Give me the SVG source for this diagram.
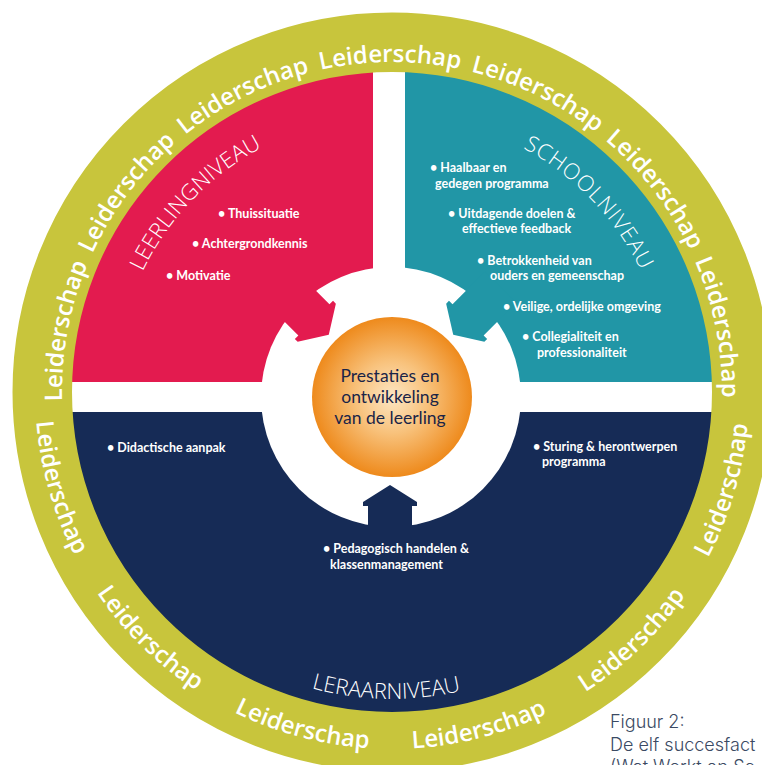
<svg xmlns="http://www.w3.org/2000/svg" width="762" height="765" viewBox="0 0 762 765">
<defs>
<style>
.ring{font-family:"Open Sans","Liberation Sans",sans-serif;font-size:24px;font-weight:600;fill:#ffffff;}
.lvl{font-family:"Open Sans","Liberation Sans",sans-serif;font-size:22px;font-weight:300;fill:#ffffff;}
.b{font-family:Lato,"Liberation Sans",sans-serif;font-size:12.5px;font-weight:700;fill:#ffffff;}
.ctr{font-family:Lato,"Liberation Sans",sans-serif;font-size:17.5px;fill:#1a2447;text-anchor:middle;}
.cap{font-family:Inter,"Liberation Sans",sans-serif;font-size:18px;font-weight:300;fill:#3b4a63;}
</style>
<clipPath id="disc"><circle cx="392" cy="392" r="321"/></clipPath>
<radialGradient id="orange" cx="0.5" cy="0.5" r="0.5">
<stop offset="0" stop-color="#fde6c4"/>
<stop offset="0.45" stop-color="#f8c27c"/>
<stop offset="1" stop-color="#ee8a1c"/>
</radialGradient>
<path id="topArc" d="M67.01,449.30 A330,330 0 1 1 716.99,449.30"/>
<path id="botArc" d="M40.42,330.01 A357,357 0 1 0 743.58,330.01"/>
<path id="lvlTop" d="M115,392 A277,277 0 0 1 669,392"/>
<path id="lvlBot" d="M85,392 A307,307 0 0 0 699,392"/>
</defs>
<rect x="0" y="0" width="762" height="765" fill="#ffffff"/>

<g id="quadrants" clip-path="url(#disc)">
<rect x="0" y="0" width="373" height="382" fill="#e31b4f"/>
<rect x="405" y="0" width="400" height="382" fill="#2196a6"/>
<rect x="0" y="412" width="800" height="400" fill="#162b56"/>
</g>
<circle id="hub" cx="391" cy="397" r="130" fill="#ffffff"/>

<g id="connectors">
<polygon fill="#e31b4f" points="328.77,334.77 335.85,303.66 333.02,300.83 329.48,304.37 296.95,271.84 265.84,302.95 298.37,335.48 294.83,339.02 297.66,341.85"/>
<polygon fill="#2196a6" points="453.23,334.77 484.34,341.85 487.17,339.02 483.63,335.48 516.16,302.95 485.05,271.84 452.52,304.37 448.98,300.83 446.15,303.66"/>
<polygon fill="#162b56" points="390,485 417,502 417,506 412,506 412,552 368,552 368,506 363,506 363,502"/>
</g>

<g id="leiderschap">
<circle cx="392" cy="392" r="349.75" fill="none" stroke="#c8c53c" stroke-width="59.5"/>
<text class="ring" text-anchor="middle"><textPath href="#topArc" startOffset="118.6">Leiderschap</textPath></text>
<text class="ring" text-anchor="middle"><textPath href="#topArc" startOffset="270.4">Leiderschap</textPath></text>
<text class="ring" text-anchor="middle"><textPath href="#topArc" startOffset="422.2">Leiderschap</textPath></text>
<text class="ring" text-anchor="middle"><textPath href="#topArc" startOffset="573.9">Leiderschap</textPath></text>
<text class="ring" text-anchor="middle"><textPath href="#topArc" startOffset="725.7">Leiderschap</textPath></text>
<text class="ring" text-anchor="middle"><textPath href="#topArc" startOffset="877.5">Leiderschap</textPath></text>
<text class="ring" text-anchor="middle"><textPath href="#topArc" startOffset="1029.2">Leiderschap</textPath></text>
<text class="ring" text-anchor="middle"><textPath href="#botArc" startOffset="162.0">Leiderschap</textPath></text>
<text class="ring" text-anchor="middle"><textPath href="#botArc" startOffset="345.8">Leiderschap</textPath></text>
<text class="ring" text-anchor="middle"><textPath href="#botArc" startOffset="529.6">Leiderschap</textPath></text>
<text class="ring" text-anchor="middle"><textPath href="#botArc" startOffset="713.4">Leiderschap</textPath></text>
<text class="ring" text-anchor="middle"><textPath href="#botArc" startOffset="897.2">Leiderschap</textPath></text>
<text class="ring" text-anchor="middle"><textPath href="#botArc" startOffset="1081.0">Leiderschap</textPath></text>
</g>

<g id="leerlingniveau">
<text class="lvl" text-anchor="middle" letter-spacing="0.2"><textPath href="#lvlTop" startOffset="212">LEERLINGNIVEAU</textPath></text>
<text class="b" x="218" y="218">• Thuissituatie</text>
<text class="b" x="192" y="248">• Achtergrondkennis</text>
<text class="b" x="166" y="280">• Motivatie</text>
</g>

<g id="schoolniveau">
<text class="lvl" text-anchor="middle" letter-spacing="1"><textPath href="#lvlTop" startOffset="658.0">SCHOOLNIVEAU</textPath></text>
<text class="b" x="430" y="172">• Haalbaar en</text>
<text class="b" x="435" y="188">gedegen programma</text>
<text class="b" x="448" y="218">• Uitdagende doelen &amp;</text>
<text class="b" x="462" y="233">effectieve feedback</text>
<text class="b" x="477" y="265">• Betrokkenheid van</text>
<text class="b" x="490" y="280">ouders en gemeenschap</text>
<text class="b" x="503" y="311">• Veilige, ordelijke omgeving</text>
<text class="b" x="522" y="341">• Collegialiteit en</text>
<text class="b" x="537" y="357">professionaliteit</text>
</g>

<g id="leraarniveau">
<text class="lvl" text-anchor="middle"><textPath href="#lvlBot" startOffset="476">LERAARNIVEAU</textPath></text>
<text class="b" x="107" y="452">• Didactische aanpak</text>
<text class="b" x="323" y="553">• Pedagogisch handelen &amp;</text>
<text class="b" x="330" y="569">klassenmanagement</text>
<text class="b" x="533" y="451">• Sturing &amp; herontwerpen</text>
<text class="b" x="542" y="466">programma</text>
</g>

<g id="center">
<circle cx="392" cy="397" r="80" fill="url(#orange)"/>
<text class="ctr" x="390" y="382">Prestaties en</text>
<text class="ctr" x="390" y="403">ontwikkeling</text>
<text class="ctr" x="390" y="424">van de leerling</text>
</g>

<g id="caption">
<text class="cap" x="610" y="728">Figuur 2:</text>
<text class="cap" x="610" y="751">De elf succesfact</text>
<text class="cap" x="610" y="773">(Wat Werkt op Sc</text>
</g>
</svg>
